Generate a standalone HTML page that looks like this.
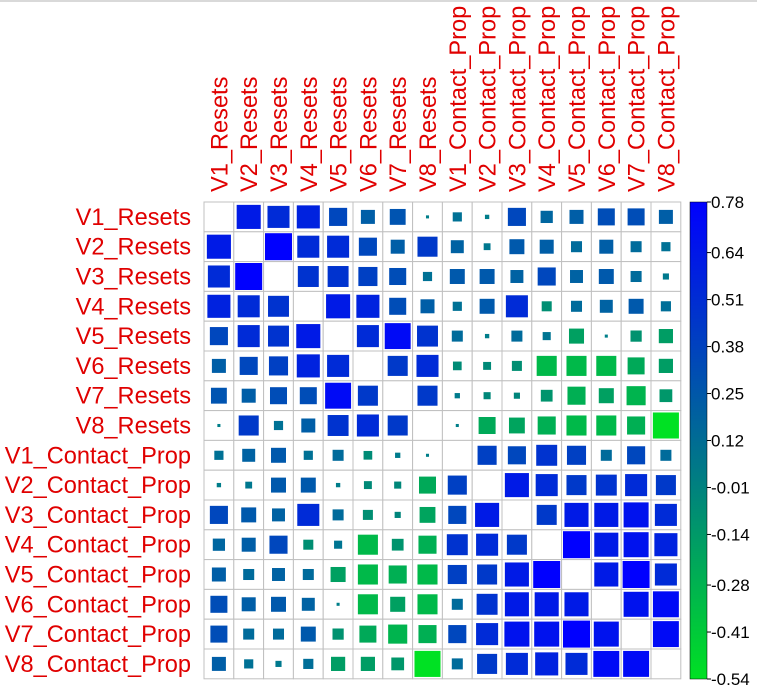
<!DOCTYPE html>
<html><head><meta charset="utf-8"><style>
html,body{margin:0;padding:0;background:#fff;}
svg{display:block;}
text{font-family:"Liberation Sans",Arial,sans-serif;}
</style></head><body>
<svg id="chart" width="757" height="694" viewBox="0 0 757 694" xmlns="http://www.w3.org/2000/svg">
<line x1="0" y1="1" x2="757" y2="1" stroke="#d9d9d9" stroke-width="2"/>
<defs><linearGradient id="cbg" x1="0" y1="0" x2="0" y2="1">
<stop offset="0" stop-color="rgb(0,0,255)"/>
<stop offset="0.591" stop-color="rgb(0,128,128)"/>
<stop offset="1" stop-color="rgb(0,225,35)"/>
</linearGradient></defs>
<g id="cells"></g>
<g id="labels"></g>
<g id="legend"></g>
</svg>
<script>
const variables = ["V1_Resets","V2_Resets","V3_Resets","V4_Resets","V5_Resets","V6_Resets","V7_Resets","V8_Resets","V1_Contact_Prop","V2_Contact_Prop","V3_Contact_Prop","V4_Contact_Prop","V5_Contact_Prop","V6_Contact_Prop","V7_Contact_Prop","V8_Contact_Prop"];
// upper triangle rows (values right of the diagonal)
const upperRow1 = [0.62,0.52,0.57,0.35,0.21,0.27,0.01,0.09,0.02,0.35,0.16,0.21,0.31,0.31,0.21];
const upperRow2 = [0.78,0.52,0.52,0.35,0.21,0.43,0.18,0.05,0.24,0.21,0.13,0.21,0.13,0.09];
const upperRow3 = [0.47,0.47,0.39,0.31,0.09,0.24,0.24,0.18,0.35,0.18,0.24,0.13,0.04];
const upperRow4 = [0.62,0.57,0.31,0.21,0.09,0.24,0.52,-0.08,0.13,0.18,0.24,0.11];
const upperRow5 = [0.52,0.72,0.47,0.13,0.02,0.13,0.07,-0.18,0.01,-0.10,-0.16];
const upperRow6 = [0.43,0.52,-0.06,-0.05,-0.08,-0.32,-0.32,-0.32,-0.23,-0.16];
const upperRow7 = [0.43,0.03,-0.04,-0.03,-0.11,-0.26,-0.18,-0.29,-0.13];
const upperRow8 = [0.01,-0.23,-0.20,-0.26,-0.32,-0.32,-0.26,-0.54];
const upperRow9 = [0.39,0.35,0.47,0.39,0.13,0.35,0.13];
const upperRow10 = [0.62,0.52,0.43,0.47,0.52,0.43];
const upperRow11 = [0.43,0.62,0.62,0.67,0.52];
const upperRow12 = [0.78,0.62,0.67,0.57];
const upperRow13 = [0.62,0.78,0.52];
const upperRow14 = [0.67,0.72];
const upperRow15 = [0.72];
const legendTicks = [0.78,0.64,0.51,0.38,0.25,0.12,-0.01,-0.14,-0.28,-0.41,-0.54];

const upperRows=[upperRow1,upperRow2,upperRow3,upperRow4,upperRow5,upperRow6,upperRow7,upperRow8,upperRow9,upperRow10,upperRow11,upperRow12,upperRow13,upperRow14,upperRow15];
const n=variables.length;
const M=[];for(let i=0;i<n;i++){M.push(new Array(n).fill(null));}
upperRows.forEach((row,i)=>row.forEach((v,k)=>{const j=i+1+k;M[i][j]=v;M[j][i]=v;}));

const NS="http://www.w3.org/2000/svg";
const X0=204,Y0=202,CELL=29.8,VMAX=0.78,VMIN=-0.54;
const xPos=j=>X0+j*CELL, yPos=i=>Y0+i*CELL;
function color(v){
  if(v>=0){const t=Math.min(1,v/VMAX);return `rgb(0,${Math.round(128*(1-t))},${Math.round(135+120*t)})`;}
  const t=Math.min(1,-v/(-VMIN));return `rgb(0,${Math.round(128+97*t)},${Math.round(128-93*t)})`;
}
function side(v){const a=Math.abs(v);return 27*Math.sqrt(Math.min(1,a/(v>=0?VMAX:0.58)));}
function el(tag,attrs,parent){const e=document.createElementNS(NS,tag);for(const k in attrs)e.setAttribute(k,attrs[k]);parent.appendChild(e);return e;}

const cells=document.getElementById('cells');
for(let i=0;i<n;i++)for(let j=0;j<n;j++){
  const bg=el('rect',{x:xPos(j),y:yPos(i),width:CELL,height:CELL,fill:'#fff',stroke:'#c0c0c0','stroke-width':1},cells);
  
  
  const v=M[i][j];
  if(v===null)continue;
  const s=side(v),cx=xPos(j)+CELL/2,cy=yPos(i)+CELL/2;
  const r=el('rect',{x:cx-s/2,y:cy-s/2,width:s,height:s,fill:color(v)},cells);
  
  
}
const labels=document.getElementById('labels');
variables.forEach((name,i)=>{
  const t=el('text',{x:191,y:yPos(i)+CELL/2+8,'text-anchor':'end','font-size':23.6,fill:'#e00000'},labels);
  t.textContent=name;
  
  
  const cx=xPos(i)+CELL/2+8.5;
  const c=el('text',{x:0,y:0,'text-anchor':'start','font-size':23.6,fill:'#e00000',transform:`translate(${cx},192) rotate(-90)`},labels);
  c.textContent=name;
  
  
});
const legend=document.getElementById('legend');
const LY0=202,LY1=679;
const ly=v=>LY0+(VMAX-v)/(VMAX-VMIN)*(LY1-LY0);
const bar=el('rect',{x:690,y:LY0,width:17,height:LY1-LY0,fill:'url(#cbg)',stroke:'#000','stroke-width':0.5},legend);


legendTicks.forEach(v=>{
  const y=ly(v);
  const tk=el('line',{x1:707,y1:y,x2:711,y2:y,stroke:'#000','stroke-width':1},legend);
  
  
  const t=el('text',{x:711,y:y+6,'font-size':17,fill:'#000'},legend);
  t.textContent=v.toFixed(2);
  
  
});
</script>
</body></html>
